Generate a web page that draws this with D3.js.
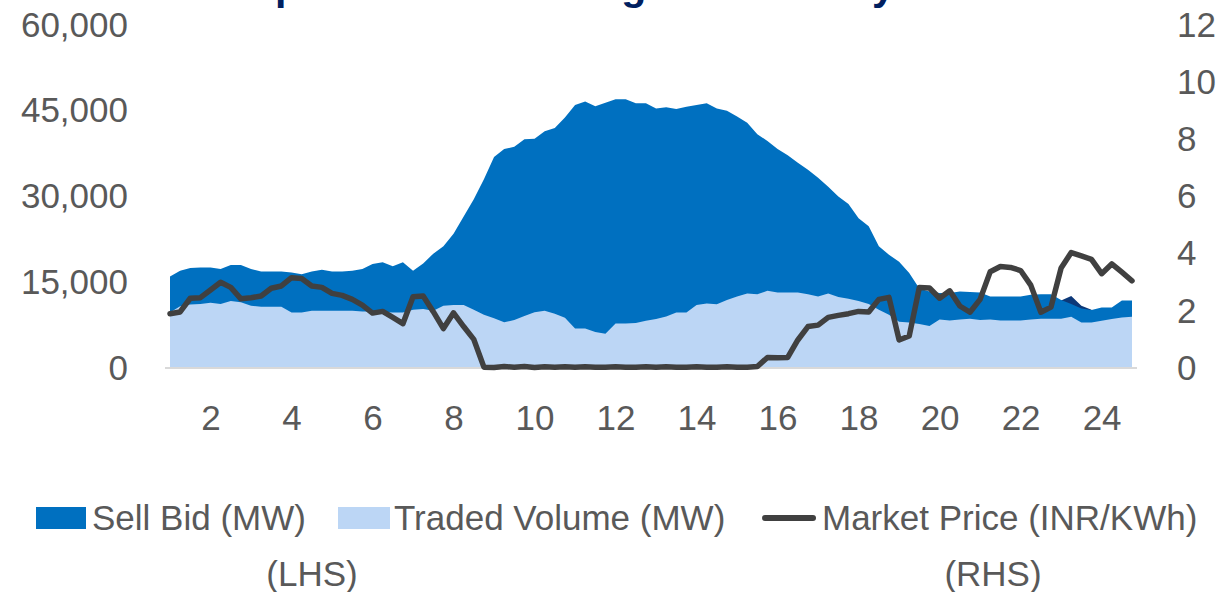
<!DOCTYPE html>
<html>
<head>
<meta charset="utf-8">
<script src="https://cdn.jsdelivr.net/npm/d3@7"></script>
<style>
  body { margin: 0; background: #fff; }
  svg { display: block; font-family: "Liberation Sans", Arial, sans-serif; }
</style>
</head>
<body>
<svg id="chart" width="1217" height="592"></svg>
<script>
// 15-minute time blocks, 96 per day
const blocks = d3.range(1, 97);
const hourTicks = [2, 4, 6, 8, 10, 12, 14, 16, 18, 20, 22, 24];
const leftTicks = [0, 15000, 30000, 45000, 60000];
const rightTicks = [0, 2, 4, 6, 8, 10, 12];

const sellBid = [
  16000, 17000, 17500, 17600, 17600, 17300, 18000, 18000, 17300, 16900,
  16900, 16900, 16700, 16400, 16900, 17200, 16900, 16900, 17000, 17300,
  18200, 18500, 17800, 18500, 17000, 18300, 20000, 21300, 23500, 26500,
  29500, 33000, 36900, 38300, 38700, 40000, 40100, 41400, 42000, 43800,
  46000, 46600, 45800, 46400, 47000, 47000, 46300, 46300, 45400, 45600,
  45300, 45700, 46000, 46300, 45400, 45000, 44000, 42900, 40900, 39700,
  38300, 37200, 35900, 34700, 33300, 31700, 30000, 28700, 26200, 24800,
  21300, 19800, 18600, 16600, 13900, 13400, 13100, 13100, 13400, 13300,
  13200, 12500, 12500, 12500, 12500, 12800, 12900, 12900, 11900, 11200,
  10400, 10150, 10600, 10600, 11800, 11800
];

const tradedVolume = [
  9700, 10800, 11100, 11200, 11400, 11200, 11700, 11500, 10900, 10700,
  10700, 10700, 9700, 9700, 10000, 10000, 10000, 10000, 10000, 9900,
  9900, 9800, 9700, 9700, 10200, 10300, 10000, 10900, 11000, 11000,
  10200, 9300, 8700, 8000, 8400, 9100, 9750, 10000, 9500, 8800,
  6900, 6900, 6300, 6000, 7800, 7800, 7850, 8250, 8550, 9000,
  9700, 9700, 11000, 11300, 11150, 11900, 12500, 13050, 12900, 13500,
  13200, 13200, 13200, 12900, 12500, 13050, 12400, 12100, 11700, 11200,
  10200, 9300, 8100, 7950, 7700, 7350, 8500, 8300, 8500, 8600,
  8400, 8500, 8300, 8300, 8300, 8500, 8600, 8600, 8600, 8950,
  7950, 7950, 8250, 8550, 8850, 8980
];

// small dark patch peeking above the sell bid late in the day
const darkPatch = [
  0, 0, 0, 0, 0, 0, 0, 0, 0, 0,
  0, 0, 0, 0, 0, 0, 0, 0, 0, 0,
  0, 0, 0, 0, 0, 0, 0, 0, 0, 0,
  0, 0, 0, 0, 0, 0, 0, 0, 0, 0,
  0, 0, 0, 0, 0, 0, 0, 0, 0, 0,
  0, 0, 0, 0, 0, 0, 0, 0, 0, 0,
  0, 0, 0, 0, 0, 0, 0, 0, 0, 0,
  0, 0, 0, 0, 0, 0, 0, 0, 0, 0,
  0, 0, 0, 0, 0, 0, 0, 0, 11800, 12600,
  10900, 10200, 0, 0, 0, 0
];

const marketPrice = [
  1.90, 1.96, 2.44, 2.46, 2.73, 3.00, 2.82, 2.42, 2.46, 2.52,
  2.79, 2.87, 3.16, 3.13, 2.87, 2.82, 2.61, 2.54, 2.40, 2.20,
  1.92, 1.98, 1.77, 1.55, 2.49, 2.52, 1.97, 1.38, 1.93, 1.45,
  1.00, 0.03, 0.02, 0.05, 0.03, 0.05, 0.02, 0.04, 0.03, 0.04,
  0.03, 0.04, 0.03, 0.03, 0.04, 0.03, 0.03, 0.04, 0.03, 0.04,
  0.03, 0.03, 0.04, 0.03, 0.03, 0.04, 0.03, 0.03, 0.05, 0.37,
  0.36, 0.37, 0.98, 1.45, 1.50, 1.77, 1.84, 1.90, 1.98, 1.96,
  2.40, 2.47, 0.98, 1.12, 2.82, 2.80, 2.44, 2.70, 2.17, 1.95,
  2.40, 3.37, 3.55, 3.52, 3.41, 2.90, 1.95, 2.13, 3.50, 4.04,
  3.92, 3.80, 3.30, 3.64, 3.35, 3.05
];

const svg = d3.select('#chart');
const textColor = '#595959';

// block n -> hour of day (block 1 sits on hour 1)
const hourOf = (b) => 1 + (b - 1) / 4;

const xScale = d3.scaleLinear().domain([1, 24.75]).range([170, 1132]);
const yLeft = d3.scaleLinear().domain([0, 60000]).range([368, 25]);
const yRight = d3.scaleLinear().domain([0, 12]).range([368, 25]);

// title (mostly above the visible frame)
svg.append('text')
  .attr('x', 143)
  .attr('y', 0)
  .attr('font-size', 41)
  .attr('font-weight', 'bold')
  .attr('fill', '#002060')
  .text('DAM Spot Market Bidding in Solar Day Hours');

const area = (vals) => d3.area()
  .x((d, i) => xScale(hourOf(blocks[i])))
  .y0(yLeft(0))
  .y1((d) => yLeft(d))(vals);

svg.append('path').attr('d', area(darkPatch)).attr('fill', '#0C3878');
svg.append('path').attr('d', area(sellBid)).attr('fill', '#0070C0');
svg.append('path').attr('d', area(tradedVolume)).attr('fill', '#BCD6F5');

// baseline
svg.append('line')
  .attr('x1', 165).attr('x2', 1137)
  .attr('y1', yLeft(0)).attr('y2', yLeft(0))
  .attr('stroke', '#D9D9D9')
  .attr('stroke-width', 2);

// price line on the right axis
const priceLine = d3.line()
  .x((d, i) => xScale(hourOf(blocks[i])))
  .y((d) => yRight(d));

svg.append('path')
  .attr('d', priceLine(marketPrice))
  .attr('fill', 'none')
  .attr('stroke', '#404040')
  .attr('stroke-width', 5.5)
  .attr('stroke-linejoin', 'round')
  .attr('stroke-linecap', 'round');

// AXES
function styleAxis(g) {
  g.select('.domain').remove();
  g.selectAll('text')
    .attr('fill', textColor)
    .attr('font-size', 35)
    .attr('font-family', '"Liberation Sans", Arial, sans-serif');
}

svg.append('g')
  .attr('transform', 'translate(170,0)')
  .call(d3.axisLeft(yLeft).tickValues(leftTicks).tickSize(0).tickPadding(42)
    .tickFormat(d3.format(',')))
  .call(styleAxis);

svg.append('g')
  .attr('transform', 'translate(1132,0)')
  .call(d3.axisRight(yRight).tickValues(rightTicks).tickSize(0).tickPadding(45))
  .call(styleAxis);

svg.append('g')
  .attr('transform', `translate(0,${yLeft(0)})`)
  .call(d3.axisBottom(xScale).tickValues(hourTicks).tickSize(0).tickPadding(37))
  .call(styleAxis);

// LEGEND
const legend = svg.append('g').attr('font-size', 35).attr('fill', textColor);

legend.append('rect').attr('x', 36).attr('y', 507).attr('width', 50).attr('height', 22).attr('fill', '#0070C0');
legend.append('text').attr('x', 92).attr('y', 530).text('Sell Bid (MW)');

legend.append('rect').attr('x', 338).attr('y', 507).attr('width', 52).attr('height', 22).attr('fill', '#BCD6F5');
legend.append('text').attr('x', 394).attr('y', 530).text('Traded Volume (MW)');

legend.append('line')
  .attr('x1', 765).attr('x2', 813).attr('y1', 518).attr('y2', 518)
  .attr('stroke', '#404040').attr('stroke-width', 6).attr('stroke-linecap', 'round');
legend.append('text').attr('x', 822).attr('y', 530).text('Market Price (INR/KWh)');

legend.append('text').attr('x', 312).attr('y', 586).attr('text-anchor', 'middle').text('(LHS)');
legend.append('text').attr('x', 993).attr('y', 586).attr('text-anchor', 'middle').text('(RHS)');
</script>
</body>
</html>
